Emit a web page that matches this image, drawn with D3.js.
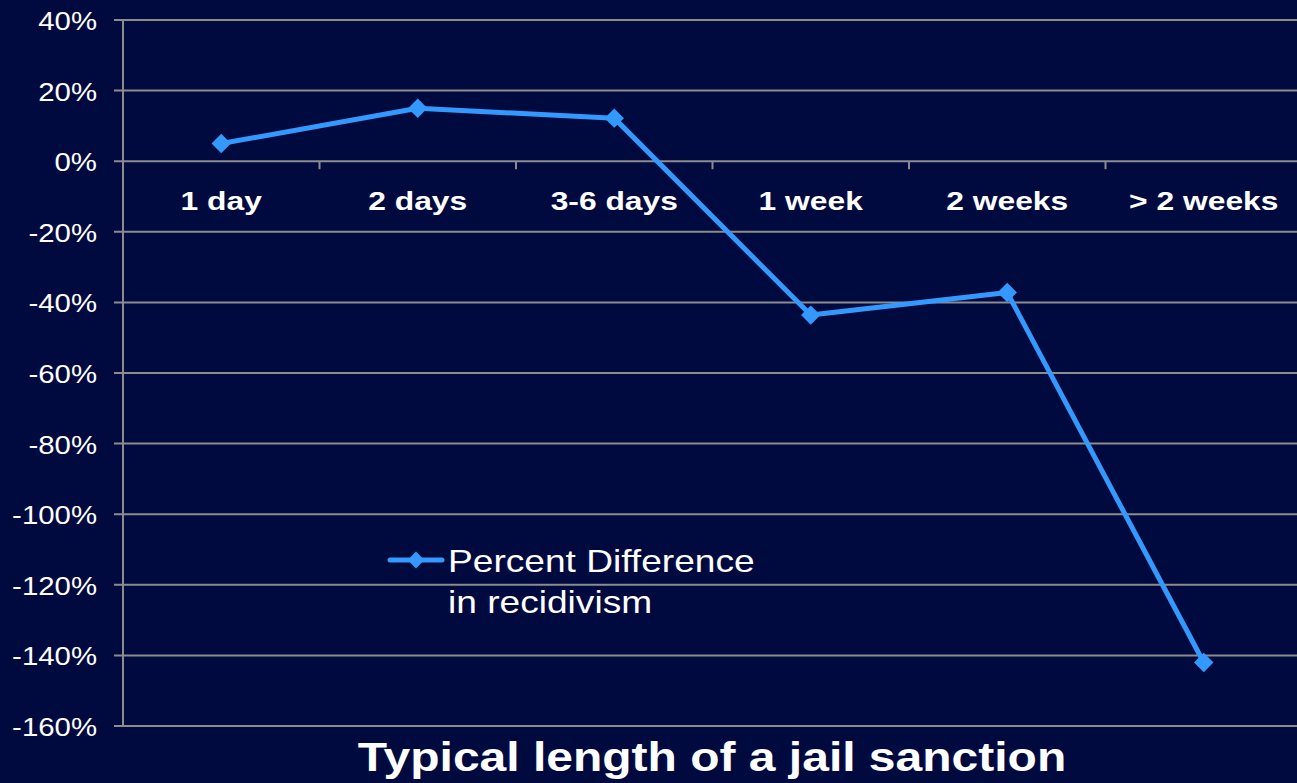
<!DOCTYPE html>
<html><head><meta charset="utf-8">
<script src="https://cdn.jsdelivr.net/npm/d3@7"></script>
<style>html,body{margin:0;padding:0;background:#000a3e;}svg{display:block;}</style>
</head><body>
<script>
const categories = ["1 day","2 days","3-6 days","1 week","2 weeks","> 2 weeks"];
const values = [5, 15, 12.2, -43.6, -37.2, -142];
const yTicks = [40,20,0,-20,-40,-60,-80,-100,-120,-140,-160];
const seriesName = ["Percent Difference","in recidivism"];
const xTitle = "Typical length of a jail sanction";

const W=1297,H=783;
const svg=d3.select("body").append("svg").attr("width",W).attr("height",H);
svg.append("rect").attr("width",W).attr("height",H).attr("fill","#000a3e");
const x=d3.scaleBand().domain(categories).range([123,1302]);
const y=d3.scaleLinear().domain([-160,40]).range([726,20]);
const grid="#8c8c8c";
const font="'Liberation Sans', Arial, sans-serif";

function txt(g,tx,ty,s,size,sx,anchor,bold){
  return g.append("text").attr("transform",`translate(${tx},${ty}) scale(${sx},1)`)
    .attr("text-anchor",anchor).attr("fill","#fff").attr("font-family",font)
    .attr("font-size",size).attr("font-weight",bold?"bold":"normal").text(s);
}

// gridlines + y ticks
const yAxis=svg.append("g");
yTicks.forEach(t=>{
  yAxis.append("line").attr("x1",114).attr("x2",W).attr("y1",y(t)).attr("y2",y(t)).attr("stroke",grid).attr("stroke-width",2);
  txt(yAxis,97,y(t)+10,t+"%",25,1.175,"end",false);
});
svg.append("line").attr("x1",123).attr("x2",123).attr("y1",y(40)).attr("y2",y(-160)).attr("stroke",grid).attr("stroke-width",2);

// category ticks on zero line
categories.forEach((c,i)=>{
  if(i>0){
    const xx=x(c);
    svg.append("line").attr("x1",xx).attr("x2",xx).attr("y1",y(0)).attr("y2",y(0)+8).attr("stroke",grid).attr("stroke-width",2);
  }
  txt(svg,x(c)+x.bandwidth()/2,y(0)+49,c,26.5,1.2,"middle",true);
});

const col="#3399ff";
const line=d3.line().x((d,i)=>x(categories[i])+x.bandwidth()/2).y(d=>y(d));
svg.append("path").datum(values).attr("d",line).attr("fill","none").attr("stroke",col).attr("stroke-width",5).attr("stroke-linejoin","round");
const sym=d3.symbol().type(d3.symbolDiamond2).size(240);
svg.selectAll(".m").data(values).enter().append("path")
  .attr("transform",(d,i)=>`translate(${x(categories[i])+x.bandwidth()/2},${y(d)})`)
  .attr("d",sym).attr("fill",col);

// legend
const lg=svg.append("g");
lg.append("line").attr("x1",390).attr("x2",442).attr("y1",560).attr("y2",560).attr("stroke",col).attr("stroke-width",5).attr("stroke-linecap","round");
lg.append("path").attr("transform","translate(416,560)").attr("d",d3.symbol().type(d3.symbolDiamond2).size(180)).attr("fill",col);
seriesName.forEach((s,i)=>{
  txt(lg,448,572+i*41,s,32,1.16,"start",false);
});

txt(svg,712,771,xTitle,40,1.2,"middle",true);
</script>
</body></html>
